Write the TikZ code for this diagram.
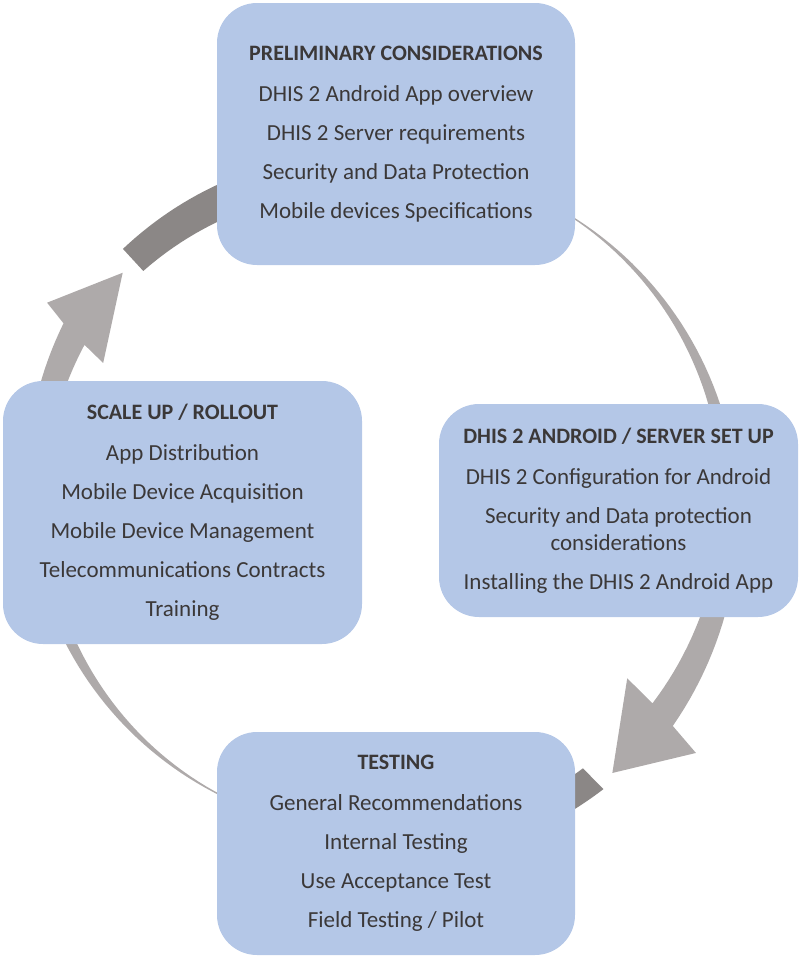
\documentclass[tikz,border=0pt]{standalone}
\usepackage{fontspec}
\setmainfont{Carlito}
\usepackage{tikz}
\usetikzlibrary{positioning}
\definecolor{boxblue}{HTML}{B4C7E7}
\definecolor{arrowlight}{HTML}{AEAAAA}
\definecolor{arrowdark}{HTML}{8B8786}
\definecolor{textgray}{HTML}{3B3838}
\newcommand{\stagetitle}[1]{{\bfseries\fontsize{11}{13.5}\selectfont #1}}

\begin{document}
\begin{tikzpicture}[x=0.5pt, y=0.5pt,
  stage/.style={fill=boxblue, rounded corners=20pt, align=center, text=textgray,
    font=\fontsize{11.5}{13.5}\selectfont, inner sep=0pt}]
\useasboundingbox (0,0) rectangle (799,-959);
% arrows round the cycle
\begin{scope}[shift={(380,-498)}]
\fill[arrowlight] plot[domain=57.5:-37.9, samples=60, variable=\t] (\t:{340+0.168*(58-\t)+0.5*(1+0.09*pow(58-\t,1.265))})
  -- (-38.9:406) -- (-49.8:360) -- (-36.1:306)
  -- plot[domain=-37:57.5, samples=60, variable=\t] (\t:{340+0.168*(58-\t)-0.5*(1+0.09*pow(58-\t,1.265))}) -- cycle;
\fill[arrowlight] plot[domain=-116.5:-208.9, samples=60, variable=\t] (\t:{337+0.109*(-116-\t)+0.5*(1+0.09*pow(-116-\t,1.265))})
  -- (-210.4:386) -- (-221.2:342) -- (-206:308)
  -- plot[domain=-207.4:-116.5, samples=60, variable=\t] (\t:{337+0.109*(-116-\t)-0.5*(1+0.09*pow(-116-\t,1.265))}) -- cycle;
\fill[arrowdark] plot[domain=-53.1:-62, samples=10, variable=\t] (\t:338)
  -- plot[domain=-62:-52.5, samples=10, variable=\t] (\t:367) -- cycle;
\fill[arrowdark] plot[domain=135.9:110, samples=20, variable=\t] (\t:{353+0.27*(\t-117.5)})
  -- plot[domain=110:136.2, samples=20, variable=\t] (\t:{320.5+0.48*(\t-120.6)}) -- cycle;
\end{scope}
% stages
\node[stage, minimum width=179pt, minimum height=131pt] (prelim) at (396,-134)
  {\stagetitle{PRELIMINARY CONSIDERATIONS}\\[7pt] DHIS 2 Android App overview\\[6pt]
   DHIS 2 Server requirements\\[6pt] Security and Data Protection\\[6pt] Mobile devices Specifications};
\node[stage, minimum width=179.5pt, minimum height=106.5pt] (setup) at (618.5,-510.5)
  {\stagetitle{DHIS 2 ANDROID / SERVER SET UP}\\[7pt] DHIS 2 Configuration for Android\\[6pt]
   Security and Data protection\\ considerations\\[6pt] Installing the DHIS 2 Android App};
\node[stage, minimum width=179pt, minimum height=111.5pt] (testing) at (396,-843.5)
  {\stagetitle{TESTING}\\[7pt] General Recommendations\\[6pt] Internal Testing\\[6pt]
   Use Acceptance Test\\[6pt] Field Testing / Pilot};
\node[stage, minimum width=179.5pt, minimum height=131.5pt] (scaleup) at (182.5,-512.5)
  {\stagetitle{SCALE UP / ROLLOUT}\\[7pt] App Distribution\\[6pt] Mobile Device Acquisition\\[6pt]
   Mobile Device Management\\[6pt] Telecommunications Contracts\\[6pt] Training};
\end{tikzpicture}
\end{document}
